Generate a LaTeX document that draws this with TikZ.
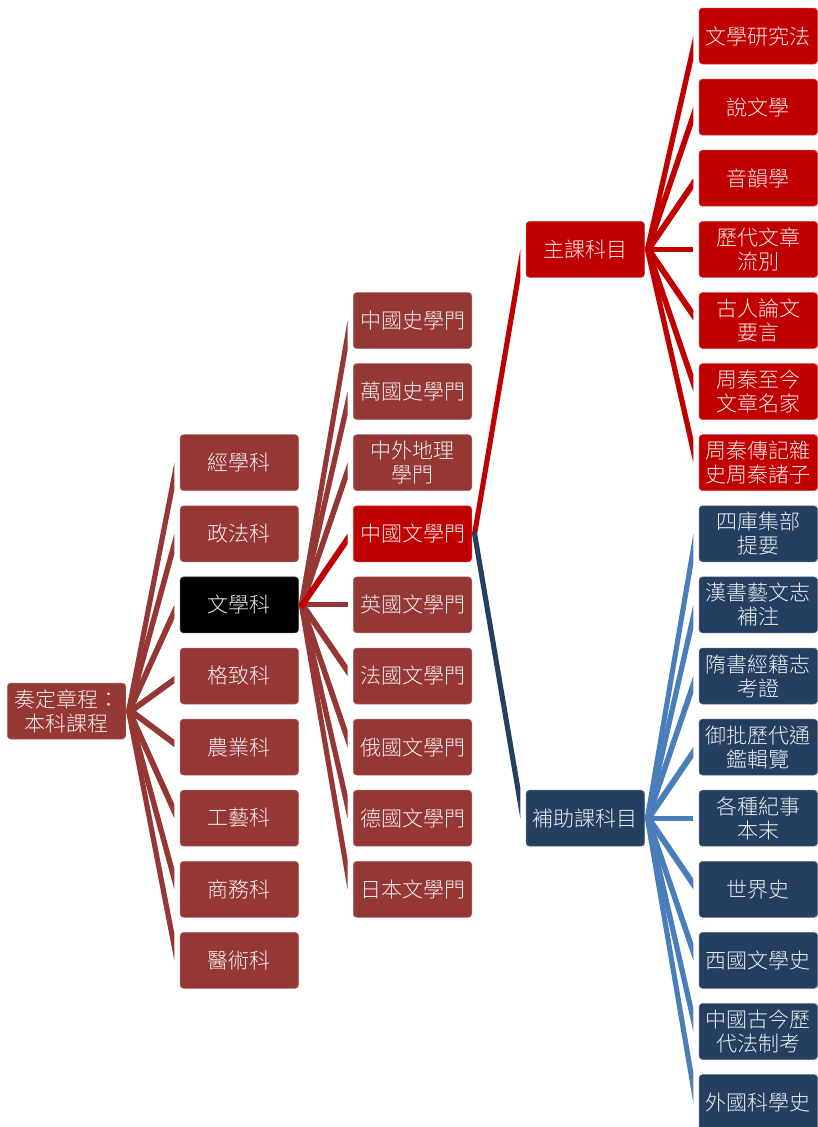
\documentclass[tikz,border=0pt]{standalone}
\usepackage{fontspec}
\newfontfamily\cjk{Noto Sans CJK TC}[UprightFont=* Light]
\usetikzlibrary{calc}
\definecolor{dred}{HTML}{953735}
\definecolor{bred}{HTML}{C00000}
\definecolor{navy}{HTML}{243F60}
\definecolor{lblue}{HTML}{4A7EBB}
% sloped connector: parent, child, colour
\newcommand\conn[3]{%
  \fill[#3] let \p1=(#1.east), \p2=([xshift=-5.5pt]#2.west),
    \n1={sign(\y2-\y1)}, \n2={1-4.5/(\x2-\x1)} in
    (\x1,\y1) -- (\x2,\y2) -- (\x2,{\y1-\n1*4pt+\n2*(\y2-\y1)})
    -- (\x1+4.5pt,{\y1-\n1*4pt}) -- cycle;}
% horizontal connector
\newcommand\connh[3]{%
  \fill[#3] ([yshift=2.5pt]#1.east) rectangle ([xshift=-5.5pt,yshift=-2.5pt]#2.west);}
\begin{document}
\begin{tikzpicture}[x=1pt,y=-1pt,
  box/.style={rectangle, rounded corners=3.5pt, minimum width=118.5pt,
    minimum height=56pt, inner sep=0pt, align=center, text=white!92!#1,
    draw=white!25!#1, line width=0.5pt, fill=#1,
    font=\cjk\fontsize{21}{24}\selectfont}]
\useasboundingbox (0,0) rectangle (818,1127);
\clip (0,0) rectangle (818,1127);
% root
\node[box=dred] (r) at (66.5,711) {奏定章程：\\本科課程};
% level 1
\node[box=dred] (a1) at (239.3,462.7) {經學科};
\node[box=dred] (a2) at (239.3,533.8) {政法科};
\node[box=black] (a3) at (239.3,604.9) {文學科};
\node[box=dred] (a4) at (239.3,676) {格致科};
\node[box=dred] (a5) at (239.3,747.1) {農業科};
\node[box=dred] (a6) at (239.3,818.2) {工藝科};
\node[box=dred] (a7) at (239.3,889.3) {商務科};
\node[box=dred] (a8) at (239.3,960.4) {醫術科};
% level 2
\node[box=dred] (b1) at (412.5,320.5) {中國史學門};
\node[box=dred] (b2) at (412.5,391.6) {萬國史學門};
\node[box=dred] (b3) at (412.5,462.7) {中外地理\\學門};
\node[box=bred] (b4) at (412.5,533.8) {中國文學門};
\node[box=dred] (b5) at (412.5,604.9) {英國文學門};
\node[box=dred] (b6) at (412.5,676) {法國文學門};
\node[box=dred] (b7) at (412.5,747.1) {俄國文學門};
\node[box=dred] (b8) at (412.5,818.2) {德國文學門};
\node[box=dred] (b9) at (412.5,889.3) {日本文學門};
% level 3
\node[box=bred] (c1) at (585.3,249.4) {主課科目};
\node[box=navy] (c2) at (585.3,818.2) {補助課科目};
% level 4
\node[box=bred] (d0) at (758.3,36) {文學研究法};
\node[box=bred] (d1) at (758.3,107.1) {說文學};
\node[box=bred] (d2) at (758.3,178.2) {音韻學};
\node[box=bred] (d3) at (758.3,249.4) {歷代文章\\流別};
\node[box=bred] (d4) at (758.3,320.5) {古人論文\\要言};
\node[box=bred] (d5) at (758.3,391.6) {周秦至今\\文章名家};
\node[box=bred] (d6) at (758.3,462.7) {周秦傳記雜\\史周秦諸子};
\node[box=navy] (d7) at (758.3,533.8) {四庫集部\\提要};
\node[box=navy] (d8) at (758.3,604.9) {漢書藝文志\\補注};
\node[box=navy] (d9) at (758.3,676) {隋書經籍志\\考證};
\node[box=navy] (d10) at (758.3,747.1) {御批歷代通\\鑑輯覽};
\node[box=navy] (d11) at (758.3,818.2) {各種紀事\\本末};
\node[box=navy] (d12) at (758.3,889.3) {世界史};
\node[box=navy] (d13) at (758.3,960.4) {西國文學史};
\node[box=navy] (d14) at (758.3,1031.5) {中國古今歷\\代法制考};
\node[box=navy] (d15) at (758.3,1102.6) {外國科學史};
% connectors
\foreach \c in {a1,a2,a3,a4,a5,a6,a7,a8} {\conn{r}{\c}{dred}}
\foreach \c in {b1,b2,b3,b6,b7,b8,b9} {\conn{a3}{\c}{dred}}
\connh{a3}{b5}{dred}
\conn{a3}{b4}{bred}
\conn{b4}{c1}{bred}
\conn{b4}{c2}{navy}
\foreach \c in {d0,d1,d2,d4,d5,d6} {\conn{c1}{\c}{bred}}
\connh{c1}{d3}{bred}
\foreach \c in {d7,d8,d9,d10,d12,d13,d14,d15} {\conn{c2}{\c}{lblue}}
\connh{c2}{d11}{lblue}
\end{tikzpicture}
\end{document}
